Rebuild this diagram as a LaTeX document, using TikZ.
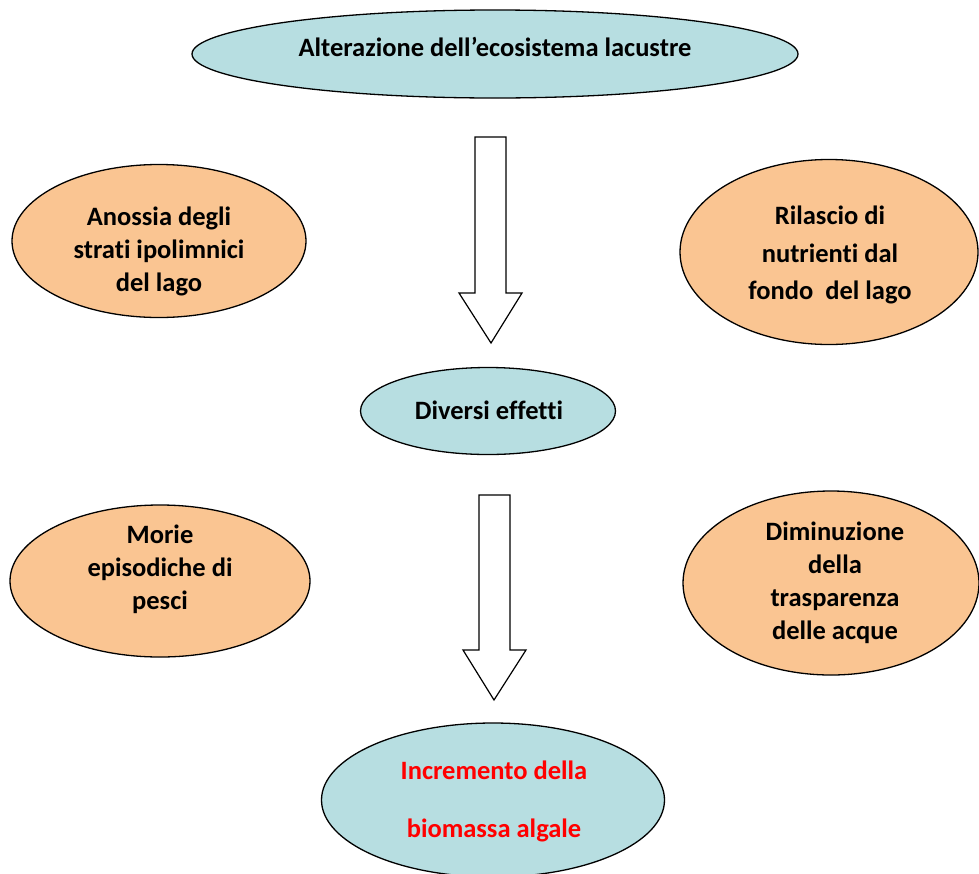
\documentclass[tikz,border=0pt]{standalone}
\usepackage{fontspec}
\setmainfont{Carlito}[Ligatures=CommonOff]
\usetikzlibrary{shapes.geometric}
\definecolor{lblue}{RGB}{183,222,225}
\definecolor{lorange}{RGB}{250,197,146}
\definecolor{tred}{RGB}{255,0,0}
\begin{document}
\begin{tikzpicture}[x=1pt,y=-1pt,
  ell/.style={ellipse,draw=black,line width=1.3pt,inner sep=0pt},
  blue/.style={ell,fill=lblue},
  orng/.style={ell,fill=lorange},
  txt/.style={font=\bfseries\fontsize{26.5}{33}\selectfont,align=center,inner sep=0pt},
  barrow/.style={draw=black,fill=white,line width=1.2pt,line join=miter}]
\useasboundingbox (0,0) rectangle (979,873);
\begin{scope}
\clip (0,0) rectangle (979,873);
\node[blue,minimum width=606pt,minimum height=88pt] (top) at (495,54) {};
\node[orng,minimum width=294pt,minimum height=153pt] (lt) at (159,241) {};
\node[orng,minimum width=298pt,minimum height=185pt] (rt) at (829,252) {};
\node[blue,minimum width=255pt,minimum height=87pt] (mid) at (488,411) {};
\node[orng,minimum width=300pt,minimum height=152pt] (lb) at (160,581) {};
\node[orng,minimum width=296pt,minimum height=184pt] (rb) at (831,583) {};
\node[blue,minimum width=343pt,minimum height=154pt] (bot) at (493,800) {};
\end{scope}
\node[txt] (ttop) at (495,47) {Alterazione dell’ecosistema lacustre};
\node[txt] (tlt) at (159,251) {Anossia degli\\strati ipolimnici\\del lago};
\node[txt,font=\bfseries\fontsize{26.5}{37.5}\selectfont] (trt) at (830,255) {Rilascio di\\nutrienti dal\\fondo\ \ del lago};
\node[txt] (tmid) at (489,410) {Diversi effetti};
\node[txt] (tlb) at (160,569) {Morie\\episodiche di\\pesci};
\node[txt] (trb) at (835,583) {Diminuzione\\della\\trasparenza\\delle acque};
\node[txt,text=tred,font=\bfseries\fontsize{26.5}{58}\selectfont] (tbot) at (494,801) {Incremento della\\biomassa algale};
\draw[barrow] (475,137) -- (506,137) -- (506,293) -- (522,293) -- (491,343) -- (459,293) -- (475,293) -- cycle;
\draw[barrow] (479,495) -- (510,495) -- (510,650) -- (526,650) -- (494,700) -- (463,650) -- (479,650) -- cycle;
\end{tikzpicture}
\end{document}
